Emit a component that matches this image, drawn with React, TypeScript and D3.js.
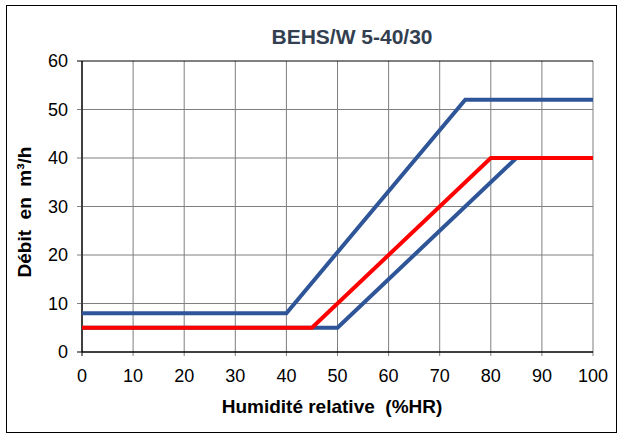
import React from 'react'
import * as d3 from 'd3'

// courbes débit / humidité
const upperBlue: [number, number][] = [[0, 8], [40, 8], [75, 52], [100, 52]]
const lowerBlue: [number, number][] = [[0, 5], [50, 5], [85, 40], [100, 40]]
const redLine: [number, number][] = [[0, 5], [45, 5], [80, 40], [100, 40]]
const xTicks = [0, 10, 20, 30, 40, 50, 60, 70, 80, 90, 100]
const yTicks = [0, 10, 20, 30, 40, 50, 60]

const W = 620
const H = 435
const margin = {top: 61, right: 27, bottom: 83, left: 82}
const font = 'Liberation Sans, Arial, sans-serif'

export default function App() {
  const x = d3.scaleLinear().domain([0, 100]).range([margin.left, W - margin.right])
  const y = d3.scaleLinear().domain([0, 60]).range([H - margin.bottom, margin.top])
  const line = d3
    .line<[number, number]>()
    .x(d => x(d[0]))
    .y(d => y(d[1]))

  const series = [
    {data: upperBlue, color: '#2E5597'},
    {data: lowerBlue, color: '#2E5597'},
    {data: redLine, color: '#FF0000'}
  ]

  return (
    <svg width={W} height={H} style={{position: 'absolute', left: 0, top: 0}} fontFamily={font}>
      <rect x={0} y={0} width={W} height={H} fill="#fff" />
      <rect x={6.5} y={5.5} width={610} height={427} fill="none" stroke="#000" strokeWidth={1} />
      <text x={352} y={44} textAnchor="middle" fontSize={21} fontWeight="bold" fill="#333F50">
        BEHS/W 5-40/30
      </text>
      {xTicks.map(t => (
        <g key={'x' + t}>
          <line x1={x(t)} x2={x(t)} y1={y(60)} y2={y(0) + 4} stroke={t === 0 ? '#000' : '#7f7f7f'} />
          <text x={x(t)} y={382} textAnchor="middle" fontSize={18} fill="#000">
            {t}
          </text>
        </g>
      ))}
      {yTicks.map(t => (
        <g key={'y' + t}>
          <line x1={x(0) - 5} x2={x(100)} y1={y(t)} y2={y(t)} stroke={t === 0 || t === 60 ? '#000' : '#7f7f7f'} />
          <text x={68} y={y(t)} dy="0.35em" textAnchor="end" fontSize={18} fill="#000">
            {t}
          </text>
        </g>
      ))}
      <line x1={x(0)} x2={x(0)} y1={y(60)} y2={y(0)} stroke="#000" />
      <line x1={x(0)} x2={x(100)} y1={y(0)} y2={y(0)} stroke="#000" />
      {series.map((s, i) => (
        <path key={i} d={line(s.data) || ''} fill="none" stroke={s.color} strokeWidth={4} strokeLinejoin="miter" />
      ))}
      <text x={332} y={413} textAnchor="middle" fontSize={19} fontWeight="bold" fill="#000" style={{whiteSpace: 'pre'}}>
        {'Humidité relative  (%HR)'}
      </text>
      <text
        transform="translate(31,212) rotate(-90)"
        textAnchor="middle"
        fontSize={19}
        fontWeight="bold"
        fill="#000"
        style={{whiteSpace: 'pre'}}
      >
        {'Débit  en  m³/h'}
      </text>
    </svg>
  )
}
